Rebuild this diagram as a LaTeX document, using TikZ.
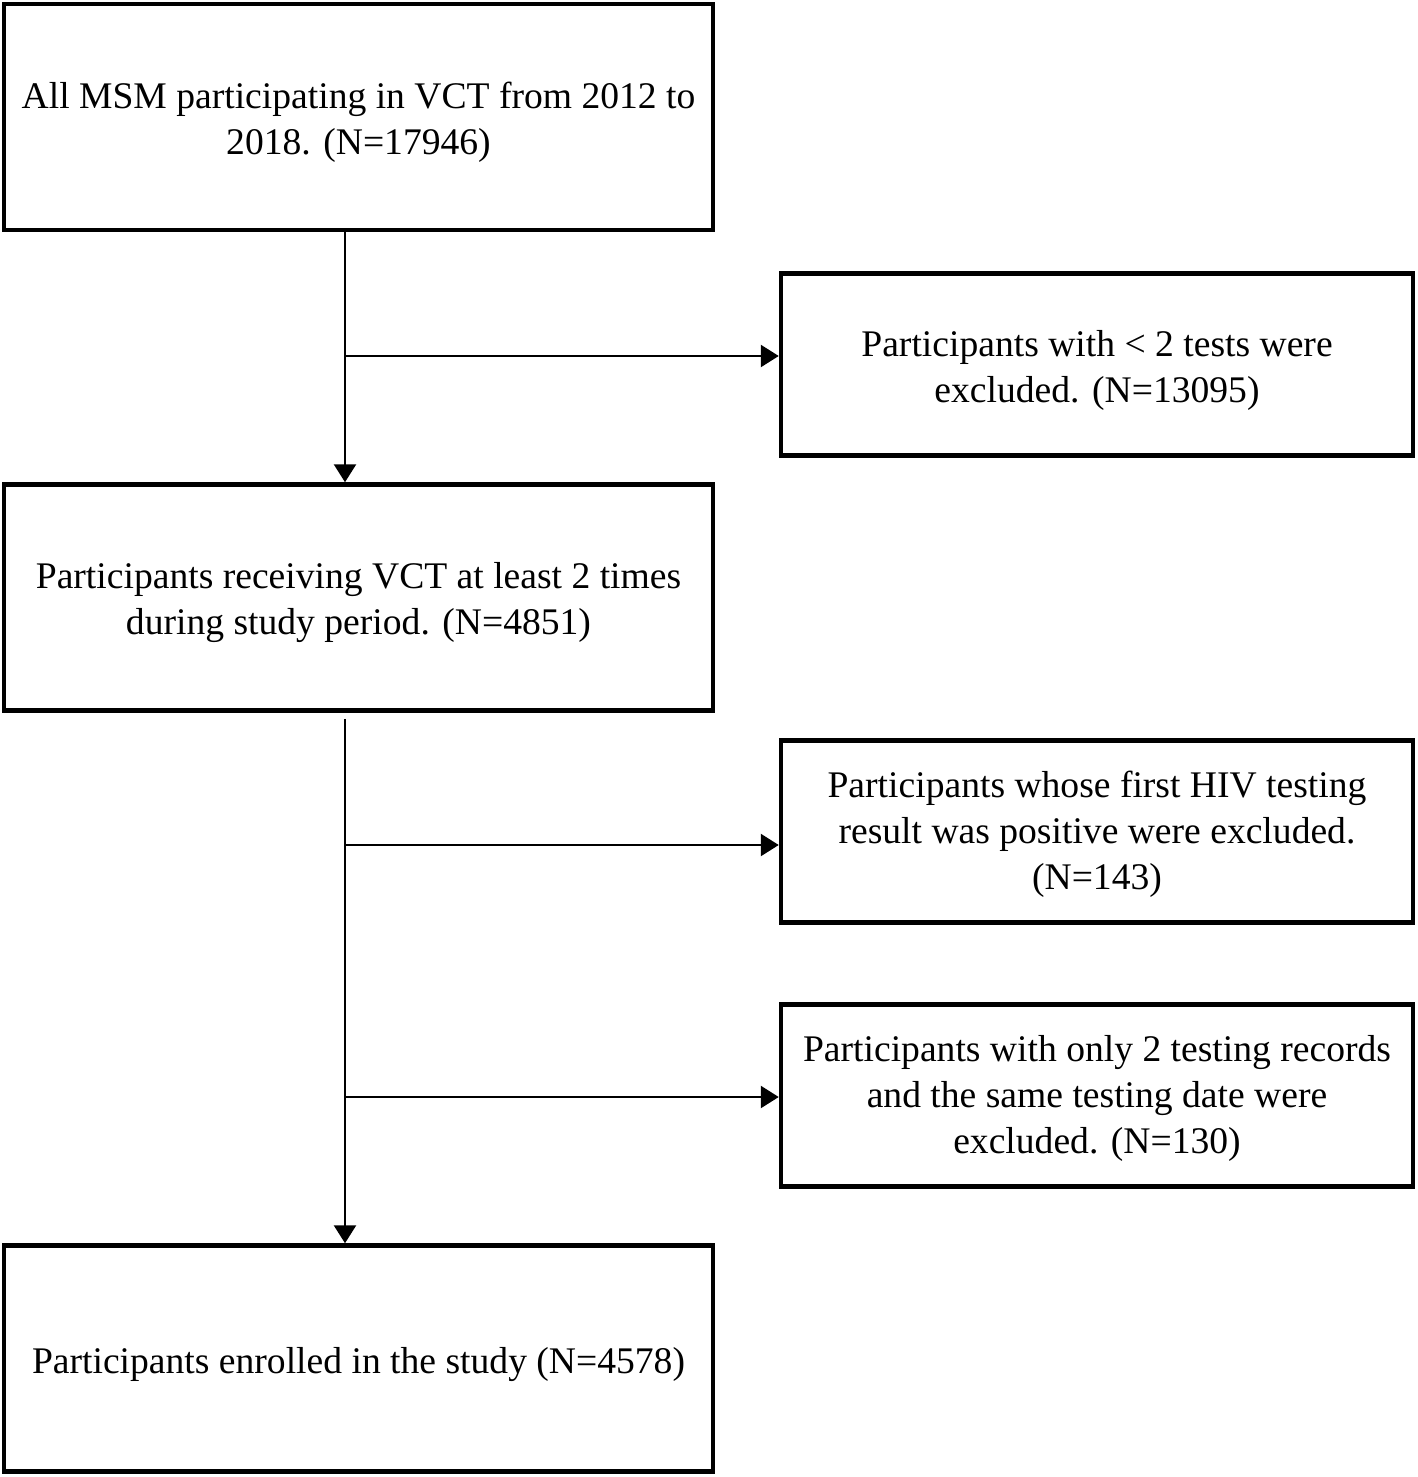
\documentclass[tikz,border=0pt]{standalone}
\usepackage{fontspec}
\setmainfont{Liberation Serif}
\usepackage{tikz}
\usetikzlibrary{positioning,arrows.meta}

\begin{document}
\begin{tikzpicture}[x=0.5pt,y=-0.5pt,
    box/.style={draw,line width=2.25pt,inner sep=0pt},
    txt/.style={align=center,inner sep=0pt,yshift=-2.75pt,
      font=\fontsize{18.8pt}{23pt}\selectfont},
    bigbox/.style={box,minimum width=354.5pt,minimum height=113pt},
    sidebox/.style={box,minimum width=316pt,minimum height=91pt},
    arr/.style={line width=1.25pt,-{Triangle[length=9pt,width=11pt]}}]
      \useasboundingbox (0,0) rectangle (1418,1477);
      % main column
      \node[bigbox,label={[txt]center:{All MSM participating in VCT from 2012 to\\2018. (N=17946)}}](all) at (358.5,117){};
      \node[bigbox,label={[txt]center:{Participants receiving VCT at least 2 times\\during study period. (N=4851)}}](twice) at (358.5,597.5){};
      \node[bigbox,label={[txt]center:{Participants enrolled in the study (N=4578)}}](enrolled) at (358.5,1358.5){};
      % exclusions
      \node[sidebox,label={[txt]center:{Participants with < 2 tests were\\excluded. (N=13095)}}](fewtests) at (1097,364.5){};
      \node[sidebox,label={[txt,yshift=1.5pt]center:{Participants whose first HIV testing\\result was positive were excluded.\\(N=143)}}](positive) at (1097,831.5){};
      \node[sidebox,label={[txt,yshift=1.5pt]center:{Participants with only 2 testing records\\and the same testing date were\\excluded. (N=130)}}](samedate) at (1097,1095.5){};
      % branch points
      \coordinate (b1) at (345,356);
      \coordinate (b2) at (345,845);
      \coordinate (b3) at (345,1097);
      \draw[arr] (all.south -| b1) -- (twice.north -| b1);
      \draw[arr,shorten <=3pt] (twice.south -| b2) -- (enrolled.north -| b2);
      \draw[arr] (b1) -- (b1 -| fewtests.west);
      \draw[arr] (b2) -- (b2 -| positive.west);
      \draw[arr] (b3) -- (b3 -| samedate.west);
    \end{tikzpicture}
\end{document}
